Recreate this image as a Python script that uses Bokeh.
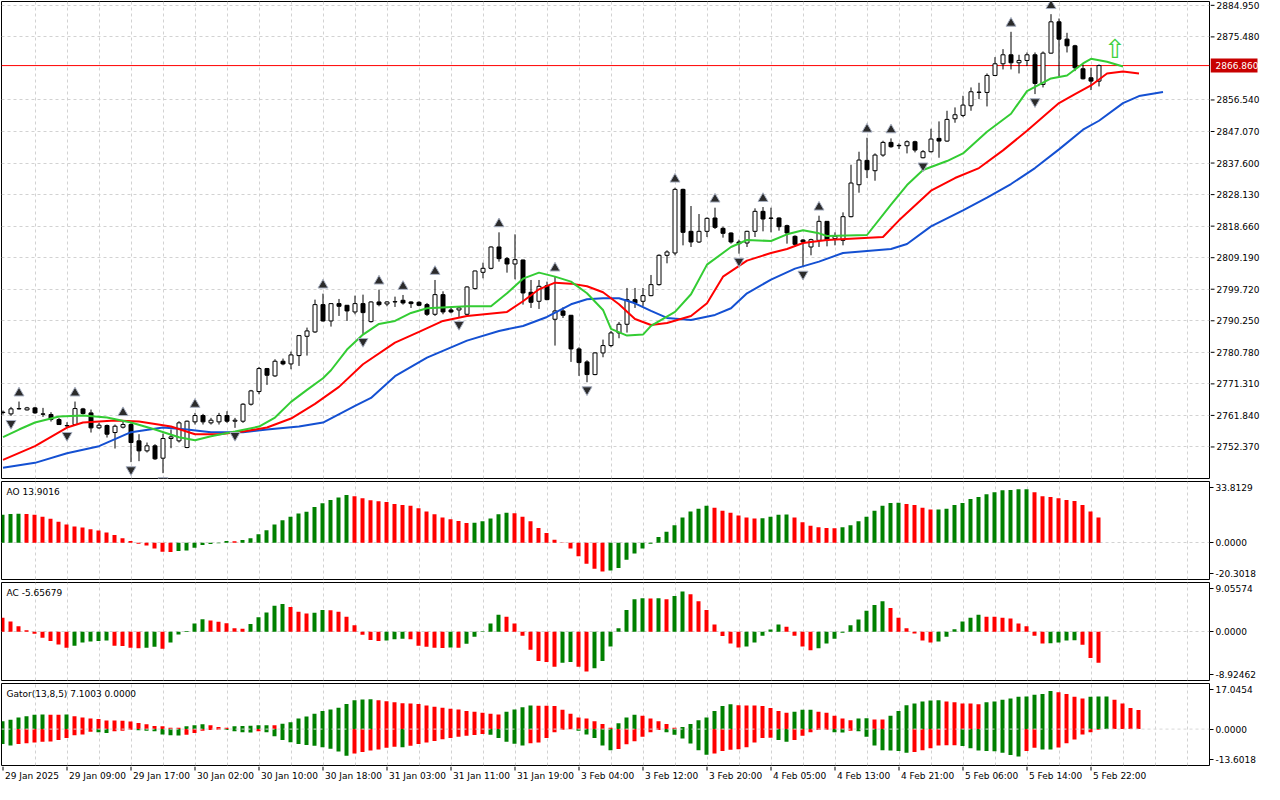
from bokeh.plotting import figure
from bokeh.layouts import column, row
from bokeh.models import ColumnDataSource, FixedTicker, Range1d, Span, Label, Grid
from bokeh.embed import file_html
from bokeh.resources import INLINE
from bokeh.core.properties import value

# ---------------- data ----------------
opens = [2762.7, 2762.3, 2763.8, 2763.5, 2764.1, 2762.3, 2762.1, 2760.6, 2758.8, 2759.1,
         2763.8, 2762.6, 2758.1, 2758.8, 2756.7, 2758.3, 2759.1, 2754.2, 2751.2, 2752.7,
         2749.0, 2754.9, 2754.2, 2752.2, 2759.9, 2761.8, 2759.6, 2759.9, 2761.8, 2760.1,
         2760.1, 2765.2, 2769.0, 2775.9, 2773.7, 2778.1, 2777.3, 2779.8, 2785.6, 2786.9,
         2795.1, 2790.2, 2795.4, 2794.9, 2792.9, 2795.4, 2790.0, 2795.9, 2795.3, 2795.9,
         2796.4, 2795.9, 2795.8, 2795.1, 2792.2, 2798.1, 2793.5, 2793.5, 2792.2, 2799.9,
         2804.8, 2806.0, 2812.4, 2808.9, 2807.3, 2808.5, 2798.8, 2796.1, 2800.8, 2790.7,
         2793.2, 2791.9, 2781.8, 2777.9, 2774.1, 2780.6, 2782.8, 2786.6, 2789.2, 2796.6,
         2796.1, 2797.8, 2801.1, 2809.9, 2810.6, 2829.7, 2817.1, 2813.9, 2817.1, 2821.1,
         2818.0, 2816.6, 2813.9, 2813.6, 2817.1, 2823.1, 2821.1, 2821.1, 2818.8, 2815.6,
         2814.5, 2812.4, 2814.4, 2820.1, 2814.9, 2814.4, 2821.5, 2831.1, 2838.4, 2835.3,
         2840.0, 2843.8, 2842.8, 2842.8, 2844.0, 2839.2, 2841.0, 2845.0, 2844.2, 2850.9,
         2851.9, 2854.8, 2858.9, 2858.8, 2863.9, 2867.4, 2870.1, 2867.7, 2868.4, 2870.1,
         2861.2, 2870.6, 2880.0, 2874.8, 2872.8, 2865.9, 2863.2, 2862.2]
highs = [2763.3, 2764.4, 2766.0, 2764.4, 2764.4, 2764.1, 2762.8, 2761.1, 2759.8, 2766.0,
         2764.1, 2763.6, 2759.6, 2759.1, 2759.1, 2760.1, 2759.9, 2756.2, 2753.7, 2753.2,
         2756.4, 2757.6, 2760.1, 2760.3, 2762.6, 2762.3, 2761.1, 2762.6, 2763.1, 2761.1,
         2765.5, 2769.5, 2776.4, 2776.1, 2778.7, 2778.9, 2781.0, 2786.0, 2788.2, 2796.6,
         2798.4, 2795.5, 2796.8, 2795.0, 2797.8, 2798.1, 2796.1, 2799.6, 2796.1, 2797.5,
         2798.0, 2796.1, 2796.1, 2795.6, 2802.5, 2799.1, 2794.1, 2794.4, 2800.6, 2805.3,
         2807.7, 2812.6, 2816.8, 2809.4, 2816.2, 2808.6, 2802.5, 2802.5, 2802.0, 2803.5,
         2794.3, 2792.0, 2782.3, 2778.4, 2780.8, 2784.6, 2787.2, 2789.9, 2800.1, 2800.1,
         2800.1, 2804.0, 2810.2, 2811.4, 2830.2, 2829.9, 2824.7, 2822.3, 2821.3, 2824.2,
         2818.5, 2816.8, 2814.6, 2817.3, 2824.0, 2824.4, 2824.2, 2821.3, 2819.1, 2815.9,
         2814.8, 2814.9, 2821.8, 2820.2, 2816.8, 2822.8, 2837.1, 2841.0, 2845.2, 2840.5,
         2844.3, 2845.0, 2843.5, 2844.4, 2844.3, 2841.5, 2847.9, 2850.1, 2853.3, 2854.3,
         2857.8, 2860.3, 2861.7, 2864.5, 2869.4, 2871.8, 2877.0, 2870.1, 2870.8, 2870.8,
         2871.1, 2882.3, 2881.0, 2876.7, 2873.1, 2867.2, 2866.2, 2867.2]
lows = [2762.1, 2761.7, 2763.6, 2763.3, 2762.3, 2761.4, 2760.0, 2759.0, 2758.1, 2758.9,
        2762.1, 2756.7, 2757.8, 2755.2, 2751.9, 2757.9, 2747.8, 2748.1, 2750.7, 2748.5,
        2744.5, 2752.0, 2753.7, 2752.0, 2759.1, 2759.1, 2759.1, 2759.1, 2759.6, 2758.1,
        2759.6, 2764.8, 2768.2, 2771.0, 2773.4, 2776.9, 2775.7, 2776.7, 2779.8, 2786.6,
        2790.0, 2788.5, 2791.7, 2790.2, 2792.2, 2786.3, 2789.7, 2794.6, 2794.6, 2794.4,
        2795.1, 2794.1, 2794.6, 2791.7, 2791.7, 2792.2, 2792.5, 2791.4, 2792.0, 2799.6,
        2803.0, 2805.7, 2808.0, 2804.7, 2802.7, 2795.1, 2794.1, 2793.8, 2796.4, 2782.8,
        2791.1, 2777.9, 2773.7, 2771.8, 2773.9, 2779.3, 2782.3, 2785.0, 2786.7, 2794.1,
        2794.6, 2797.6, 2800.8, 2807.5, 2809.9, 2812.9, 2812.4, 2813.6, 2815.4, 2817.8,
        2815.2, 2813.4, 2810.4, 2812.4, 2815.4, 2817.1, 2816.8, 2817.3, 2813.4, 2812.4,
        2806.5, 2809.9, 2812.4, 2812.6, 2812.9, 2812.9, 2821.3, 2828.7, 2833.1, 2832.3,
        2839.5, 2842.2, 2841.8, 2840.5, 2840.8, 2839.0, 2840.8, 2839.2, 2844.0, 2849.7,
        2851.4, 2853.3, 2856.8, 2854.6, 2863.7, 2865.7, 2865.7, 2864.5, 2866.7, 2858.3,
        2860.3, 2870.4, 2863.7, 2870.8, 2865.2, 2862.7, 2859.5, 2860.6]
closes = [2762.8, 2763.8, 2763.9, 2764.1, 2762.6, 2762.2, 2760.6, 2759.1, 2758.7, 2763.9,
          2762.4, 2758.1, 2758.9, 2756.2, 2758.6, 2759.1, 2753.7, 2751.2, 2752.7, 2748.8,
          2754.9, 2755.4, 2759.6, 2760.1, 2761.8, 2759.9, 2760.4, 2761.8, 2760.1, 2760.4,
          2765.2, 2769.2, 2775.9, 2773.9, 2778.1, 2777.3, 2780.0, 2785.8, 2787.2, 2795.1,
          2790.2, 2795.4, 2794.6, 2793.2, 2795.4, 2792.7, 2795.9, 2795.1, 2795.9, 2796.0,
          2795.6, 2795.4, 2794.9, 2792.2, 2798.1, 2792.9, 2792.9, 2794.1, 2800.4, 2805.2,
          2806.0, 2812.4, 2808.9, 2807.3, 2808.6, 2798.6, 2795.8, 2800.6, 2796.6, 2793.2,
          2791.9, 2781.8, 2777.7, 2774.1, 2780.6, 2782.8, 2786.6, 2789.2, 2796.6, 2795.6,
          2797.8, 2801.1, 2809.9, 2810.9, 2829.7, 2816.8, 2813.9, 2817.1, 2821.0, 2818.3,
          2816.5, 2813.9, 2813.4, 2817.1, 2823.1, 2820.8, 2821.0, 2818.5, 2816.6, 2813.2,
          2813.9, 2814.6, 2820.1, 2814.4, 2815.6, 2821.5, 2831.6, 2838.5, 2835.6, 2840.0,
          2843.8, 2842.5, 2842.9, 2844.0, 2841.5, 2841.0, 2844.8, 2844.2, 2850.7, 2852.1,
          2855.0, 2859.0, 2858.8, 2863.9, 2867.4, 2870.1, 2867.7, 2868.4, 2870.1, 2861.5,
          2870.6, 2880.0, 2874.8, 2872.8, 2866.2, 2862.9, 2862.2, 2866.86]

# Alligator lines (bar index, price)
jaw_x = [0, 4, 8, 12, 16, 20, 23, 26, 30, 33, 37, 40, 44, 46, 49, 53, 58, 62, 65, 68,
         71, 73, 75, 77, 79, 81, 83, 86, 89, 91, 93, 96, 99, 102, 105, 108, 111, 113, 116, 120,
         123, 126, 129, 132, 135, 137, 140, 142, 145]
jaw_y = [2746.1, 2747.6, 2750.5, 2752.6, 2756.8, 2758.2, 2757.6, 2756.8, 2756.8, 2757.6,
         2758.5, 2759.7, 2764.7, 2767.1, 2773.6, 2779.2, 2784.3, 2787.2, 2788.7, 2791.4,
         2795.2, 2796.7, 2797.0, 2797.0, 2795.5, 2793.2, 2791.1, 2790.5, 2792.0, 2794.0,
         2798.5, 2802.6, 2805.9, 2808.0, 2810.6, 2811.2, 2811.8, 2813.3, 2818.6, 2823.4,
         2827.2, 2831.3, 2836.1, 2841.7, 2847.6, 2850.3, 2855.6, 2857.7, 2858.9]
teeth_x = [0, 4, 8, 10, 14, 17, 21, 24, 27, 30, 33, 36, 39, 42, 45, 49, 52, 55, 58, 63,
           65, 67, 69, 71, 73, 75, 77, 79, 81, 83, 86, 88, 90, 93, 96, 98, 100, 103, 110, 112,
           116, 119, 122, 125, 128, 132, 134, 136, 138, 140, 142]
teeth_y = [2748.5, 2752.6, 2758.2, 2759.7, 2760.3, 2760.0, 2758.5, 2756.2, 2756.2, 2757.0,
           2758.2, 2760.9, 2765.3, 2770.4, 2777.2, 2783.7, 2786.9, 2790.2, 2791.7, 2792.9,
           2796.1, 2799.7, 2801.7, 2801.4, 2800.6, 2798.8, 2795.2, 2790.8, 2789.0, 2789.6,
           2791.7, 2795.5, 2803.5, 2808.3, 2810.6, 2811.8, 2813.6, 2814.5, 2815.4, 2820.4,
           2829.3, 2833.1, 2836.1, 2841.4, 2847.3, 2855.6, 2858.3, 2860.9, 2864.5, 2865.1,
           2864.5]
lips_x = [0, 2, 4, 7, 10, 13, 16, 19, 22, 24, 26, 29, 32, 34, 36, 38, 40, 41, 43, 45,
          47, 49, 51, 53, 58, 61, 63, 65, 67, 69, 71, 73, 75, 76, 78, 80, 81, 84, 86, 88,
          91, 93, 96, 98, 100, 102, 103, 108, 111, 113, 115, 118, 120, 123, 126, 128, 131, 133, 135, 136,
          138, 140]
lips_y = [2755.3, 2757.6, 2759.7, 2761.5, 2761.8, 2761.2, 2759.7, 2757.6, 2755.3, 2754.4,
          2755.6, 2757.0, 2758.5, 2761.2, 2765.9, 2769.5, 2773.0, 2775.4, 2781.6, 2786.1,
          2789.3, 2790.2, 2792.6, 2794.0, 2794.6, 2794.6, 2798.5, 2802.9, 2804.7, 2803.5,
          2802.0, 2798.5, 2793.5, 2787.8, 2785.8, 2786.1, 2788.7, 2792.9, 2798.2, 2807.1,
          2812.4, 2814.5, 2814.2, 2816.2, 2817.4, 2816.5, 2815.7, 2816.0, 2825.1, 2831.0,
          2835.5, 2838.2, 2840.5, 2847.0, 2852.4, 2859.2, 2863.0, 2863.9, 2867.5, 2868.9,
          2868.0, 2866.6]

fractal_up = [2, 9, 15, 24, 40, 47, 50, 54, 62, 69, 84, 89, 95, 102, 108, 111, 126, 131]
fractal_down = [1, 8, 16, 20, 29, 45, 57, 73, 92, 100, 115, 129]

signal_x = [139]
signal_y = [2871.7]
last_price = 2866.86
last_price_text = "2866.860"

ao = [15.5, 15.9, 16.0, 15.8, 15.4, 14.3, 13.3, 11.6, 10.0, 8.9,
      8.4, 7.4, 6.8, 5.7, 4.3, 2.5, 0.9, -0.5, -1.5, -3.2,
      -5.0, -5.1, -4.5, -4.3, -2.8, -1.3, -0.7, -0.35, 0.9, 0.8,
      1.5, 2.5, 4.7, 6.9, 10.1, 12.4, 14.4, 16.1, 17.1, 19.7,
      21.8, 23.6, 25.0, 26.3, 25.7, 24.6, 23.4, 22.9, 22.5, 21.4,
      20.9, 20.4, 19.1, 17.2, 15.7, 13.9, 12.9, 12.0, 10.9, 11.0,
      11.8, 13.4, 15.7, 16.6, 16.3, 14.4, 11.8, 8.1, 5.4, 1.6,
      -0.2, -3.2, -7.4, -11.6, -14.3, -15.9, -15.4, -13.9, -9.4, -5.9,
      -3.2, -0.5, 3.2, 6.1, 9.6, 13.9, 17.2, 18.8, 20.4, 19.3,
      17.7, 16.6, 15.0, 13.9, 13.4, 13.5, 14.4, 15.5, 15.6, 13.9,
      11.3, 9.4, 8.5, 8.1, 8.0, 8.5, 9.6, 11.8, 14.4, 17.7,
      20.4, 22.0, 22.1, 21.4, 20.9, 19.3, 18.3, 18.4, 18.8, 20.9,
      22.0, 24.2, 25.2, 26.8, 27.9, 29.0, 29.1, 29.5, 29.6, 27.9,
      25.7, 25.2, 24.6, 23.6, 23.1, 20.9, 17.2, 13.9016]
ac = [2.61, 1.90, 1.01, 0.30, -0.36, -1.07, -1.66, -2.31, -2.91, -2.55,
      -1.96, -1.78, -1.66, -1.60, -2.55, -2.61, -2.91, -3.02, -2.91, -2.73,
      -3.08, -1.96, -0.47, 0.18, 1.54, 2.31, 2.08, 1.84, 1.60, 0.65,
      0.59, 1.42, 2.67, 3.56, 4.80, 5.10, 4.57, 3.68, 3.38, 3.50,
      4.03, 3.97, 3.68, 2.79, 1.19, -0.53, -1.48, -1.70, -1.60, -1.36,
      -1.25, -1.36, -2.55, -2.73, -2.91, -2.95, -2.85, -2.91, -2.19, -0.89,
      0.12, 1.54, 3.14, 2.79, 1.54, -0.71, -3.26, -5.34, -5.51, -6.40,
      -5.69, -5.51, -6.40, -7.29, -6.70, -5.34, -2.67, 0.65, 4.03, 5.99,
      6.17, 6.10, 6.15, 5.99, 6.58, 7.41, 6.88, 5.63, 4.03, 1.36,
      -0.77, -2.13, -2.85, -2.67, -1.96, -0.71, 0.42, 1.36, 0.95, -0.71,
      -2.67, -3.38, -3.02, -2.13, -1.25, -0.15, 1.19, 2.25, 3.85, 4.92,
      5.63, 4.39, 2.61, 0.65, -0.30, -1.60, -1.96, -1.78, -0.89, 0.47,
      1.90, 2.61, 3.14, 2.79, 2.75, 2.61, 2.43, 1.54, 1.01, -0.71,
      -2.13, -2.10, -1.96, -1.60, -1.55, -2.37, -4.80, -5.65679]
gator_up = [2.9, 3.5, 4.3, 4.8, 5.4, 5.45, 5.4, 5.35, 5.45, 4.8,
            4.3, 4.0, 3.8, 3.25, 3.2, 3.15, 2.8, 2.3, 1.8, 1.15,
            1.1, 0.55, 0.5, 1.1, 1.4, 1.8, 1.4, 0.8, 0.5, 1.1,
            1.2, 1.3, 1.4, 1.45, 1.4, 2.0, 2.6, 4.0, 4.7, 5.7,
            6.8, 7.3, 8.0, 9.4, 10.8, 11.1, 11.15, 10.8, 10.4, 10.0,
            9.7, 9.6, 9.4, 8.8, 8.4, 8.0, 7.6, 7.3, 6.8, 6.5,
            6.1, 5.7, 5.5, 6.5, 7.3, 8.2, 8.8, 8.75, 8.7, 8.6,
            7.2, 5.7, 4.3, 4.0, 2.9, 1.9, 0.5, 2.2, 4.3, 5.4,
            5.0, 4.0, 2.9, 1.9, 0.5, 0.8, 1.9, 3.3, 4.3, 6.8,
            8.6, 9.3, 8.9, 8.85, 8.8, 8.6, 7.9, 6.8, 6.1, 6.5,
            7.2, 7.25, 6.5, 6.1, 5.0, 4.0, 3.3, 4.0, 4.05, 3.6,
            3.55, 5.0, 6.8, 8.9, 9.6, 10.3, 10.7, 10.75, 10.3, 10.0,
            9.6, 9.55, 9.3, 10.0, 10.3, 11.0, 11.4, 12.1, 12.15, 12.8,
            13.1, 14.2, 13.8, 13.1, 12.1, 11.4, 12.1, 12.15, 12.2, 11.0,
            9.6, 7.9, 7.1003]
gator_down = [-5.6, -6.1, -5.6, -5.3, -5.0, -4.7, -4.65, -4.1, -3.3, -2.3,
              -2.0, -1.0, -1.2, -1.5, -0.8, -0.6, -0.25, -0.45, -0.6, -0.8,
              -2.0, -2.3, -2.35, -2.1, -1.5, -0.6, -0.35, -0.25, -0.35, -0.8,
              -1.2, -1.25, -0.8, -1.2, -2.7, -4.1, -4.9, -5.6, -5.9, -6.2,
              -6.8, -7.3, -8.4, -10.0, -9.1, -8.6, -8.0, -7.6, -7.0, -6.6,
              -6.8, -6.2, -5.6, -5.0, -4.4, -3.8, -3.3, -2.9, -2.5, -2.2,
              -1.8, -2.1, -3.3, -4.7, -5.5, -6.1, -5.3, -5.0, -3.3, -1.2,
              -0.25, -0.1, -0.6, -2.0, -3.3, -6.1, -7.9, -7.4, -5.7, -4.5,
              -2.9, -1.2, -0.35, -1.2, -2.1, -3.5, -5.4, -7.9, -9.6, -9.1,
              -8.2, -7.7, -7.5, -6.8, -5.0, -3.3, -3.2, -4.1, -4.7, -4.1,
              -2.5, -1.2, -0.35, -0.25, -1.2, -1.25, -0.6, -0.8, -2.9, -6.1,
              -7.9, -7.95, -8.2, -8.8, -8.6, -7.9, -7.2, -6.1, -6.05, -6.0,
              -6.3, -7.2, -8.0, -8.2, -8.25, -8.8, -9.7, -10.2, -8.2, -7.0,
              -7.6, -7.65, -6.9, -5.3, -3.9, -2.0, -1.2, -0.25, 0.0, 0.0,
              0.0, 0.0, 0.0]

price_ticks = [2752.370, 2761.840, 2771.310, 2780.780, 2790.250, 2799.720, 2809.190,
               2818.660, 2828.130, 2837.600, 2847.070, 2856.540, 2875.480, 2884.950]
price_tick_labels = ["2752.370", "2761.840", "2771.310", "2780.780", "2790.250", "2799.720",
                     "2809.190", "2818.660", "2828.130", "2837.600", "2847.070", "2856.540",
                     "2875.480", "2884.950"]
price_range = (2742.9, 2886.1)
ao_range = (-20.3018, 33.8129)
ac_range = (-8.92462, 9.05574)
gator_range = (-13.6018, 17.0454)
ao_labels = ["33.8129", "0.0000", "-20.3018"]
ac_labels = ["9.05574", "0.0000", "-8.92462"]
gator_labels = ["17.0454", "0.0000", "-13.6018"]
ao_title = "AO 13.9016"
ac_title = "AC -5.65679"
gator_title = "Gator(13,8,5) 7.1003 0.0000"

time_idx = [0, 8, 16, 24, 32, 40, 48, 56, 64, 72, 80, 88, 96, 104, 112, 120, 128, 136]
time_labels = ["29 Jan 2025", "29 Jan 09:00", "29 Jan 17:00", "30 Jan 02:00", "30 Jan 10:00",
               "30 Jan 18:00", "31 Jan 03:00", "31 Jan 11:00", "31 Jan 19:00", "3 Feb 04:00",
               "3 Feb 12:00", "3 Feb 20:00", "4 Feb 05:00", "4 Feb 13:00", "4 Feb 21:00",
               "5 Feb 06:00", "5 Feb 14:00", "5 Feb 22:00"]

# ---------------- styling ----------------
FONT = "DejaVu Sans"
FS = "9px"
GREEN = "#008000"
RED = "#ff0000"
GRID_C = "#d2d2d2"
FW = 1208
AXW = 54
X_START = -0.1875
X_END = X_START + FW / 8.0
xr = Range1d(X_START, X_END)
vgrid_ticks = list(range(4, 153, 4))


def make_fig(fh, yr, tick_vals=None, tick_text=None):
    with_axis = tick_vals is not None
    p = figure(frame_width=FW, frame_height=fh, x_range=xr, y_range=Range1d(*yr),
               output_backend="svg", toolbar_location=None, x_axis_location=None,
               y_axis_location="right" if with_axis else None, min_border_left=1,
               min_border_top=1, min_border_bottom=1, min_border_right=1)
    p.outline_line_color = "black"
    p.outline_line_width = 1
    p.outline_line_alpha = 1.0
    p.background_fill_color = "white"
    p.border_fill_color = "white"
    p.xgrid.visible = False
    p.ygrid.visible = False
    if with_axis:
        ax = p.yaxis[0]
        ax.ticker = FixedTicker(ticks=tick_vals, minor_ticks=[])
        ax.major_label_overrides = {v: t for v, t in zip(tick_vals, tick_text)}
        ax.major_label_text_font = FONT
        ax.major_label_text_font_size = FS
        ax.major_label_text_color = "black"
        ax.major_label_standoff = 2
        ax.major_tick_out = 4
        ax.major_tick_in = 0
        ax.minor_tick_out = 0
        ax.minor_tick_in = 0
        ax.major_tick_line_color = "black"
        ax.axis_line_color = None
    p.add_layout(Grid(dimension=0, ticker=FixedTicker(ticks=vgrid_ticks),
                      grid_line_color=GRID_C, grid_line_dash="3 3"))
    return p


def inset_ticks(yr, fh, px=6):
    s = (yr[1] - yr[0]) / fh
    return [yr[1] - px * s, 0.0, yr[0] + px * s]


def hist_colors(vals, first, use_abs=False):
    cols, prev, cur = [], None, first
    for v in vals:
        a = abs(v) if use_abs else v
        if prev is not None:
            if a > prev:
                cur = GREEN
            elif a < prev:
                cur = RED
        cols.append(cur)
        prev = a
    return cols


def pane_title(p, yr, text):
    p.add_layout(Label(x=X_START, y=yr[1], x_offset=5, y_offset=-5, text=text,
                       text_baseline="top", text_align="left", text_font=FONT,
                       text_font_size=FS, text_color="black"))


# ---------------- main price pane ----------------
MAIN_H = 477
pmain = make_fig(MAIN_H, price_range)
pmain.add_layout(Grid(dimension=1, ticker=FixedTicker(ticks=price_ticks),
                      grid_line_color=GRID_C, grid_line_dash="3 3"))

# current-price line (drawn as a glyph, under the candles)
pmain.segment(x0=[X_START], y0=[last_price], x1=[X_END], y1=[last_price],
              line_color="#ff0000", line_width=1)

n = len(opens)
cs = ColumnDataSource(dict(
    x=list(range(n)), h=highs, l=lows,
    top=[max(a, b) for a, b in zip(opens, closes)],
    bot=[min(a, b) for a, b in zip(opens, closes)],
    fill=["white" if c >= o else "black" for o, c in zip(opens, closes)],
))
pmain.segment(x0="x", y0="h", x1="x", y1="l", source=cs, line_color="black", line_width=1)
pmain.vbar(x="x", top="top", bottom="bot", width=0.5, source=cs, fill_color="fill",
           line_color="black", line_width=1)

pmain.line(jaw_x, jaw_y, line_color="#1450d2", line_width=2)
pmain.line(teeth_x, teeth_y, line_color="#ff0000", line_width=2)
pmain.line(lips_x, lips_y, line_color="#33cc33", line_width=2)

ppx = (price_range[1] - price_range[0]) / MAIN_H
pmain.scatter(fractal_up, [highs[i] + 8.5 * ppx for i in fractal_up],
              marker="triangle", size=10, fill_color="#2b2b2b", line_color="#a8b0c2", line_width=1)
pmain.scatter(fractal_down, [lows[i] - 7.5 * ppx for i in fractal_down],
              marker="inverted_triangle", size=10, fill_color="#2b2b2b", line_color="#a8b0c2",
              line_width=1)

pmain.text(x=signal_x, y=signal_y, text=["\u21e7"], text_color="#3ccf3c",
           text_font=value(FONT), text_font_size="26px", text_align="center",
           text_baseline="middle")

# price scale drawn as a narrow companion figure (so the price box can sit on it)
paxis = figure(frame_width=AXW, frame_height=MAIN_H, x_range=Range1d(0, AXW),
               y_range=pmain.y_range, output_backend="svg", toolbar_location=None,
               x_axis_location=None, y_axis_location=None, min_border_left=0,
               min_border_right=0, min_border_top=1, min_border_bottom=1)
paxis.outline_line_color = None
paxis.background_fill_color = "white"
paxis.border_fill_color = "white"
paxis.xgrid.visible = False
paxis.ygrid.visible = False
k = len(price_ticks)
paxis.segment(x0=[0] * k, y0=price_ticks, x1=[4] * k, y1=price_ticks,
              line_color="black", line_width=1)
paxis.text(x=[6] * k, y=price_ticks, text=price_tick_labels, text_font=value(FONT),
           text_font_size=FS, text_color="black", text_align="left", text_baseline="middle")
paxis.quad(left=[0], right=[47], top=[last_price + 7 * ppx], bottom=[last_price - 7 * ppx],
           fill_color="#c80000", line_color=None)
paxis.text(x=[5], y=[last_price], text=[last_price_text], text_font=value(FONT),
           text_font_size=FS, text_color="white", text_align="left", text_baseline="middle")

# ---------------- AO pane ----------------
SUB_H = 98
pao = make_fig(SUB_H, ao_range, inset_ticks(ao_range, SUB_H), ao_labels)
pao.add_layout(Grid(dimension=1, ticker=FixedTicker(ticks=[0.0]),
                    grid_line_color=GRID_C, grid_line_dash="3 3"))
hx = [i - 0.0625 for i in range(len(ao))]
pao.vbar(x=hx, top=ao, bottom=0, width=0.5, fill_color=hist_colors(ao, GREEN), line_color=None)
pane_title(pao, ao_range, ao_title)

# ---------------- AC pane ----------------
pac = make_fig(SUB_H, ac_range, inset_ticks(ac_range, SUB_H), ac_labels)
pac.add_layout(Grid(dimension=1, ticker=FixedTicker(ticks=[0.0]),
                    grid_line_color=GRID_C, grid_line_dash="3 3"))
hx = [i - 0.0625 for i in range(len(ac))]
pac.vbar(x=hx, top=ac, bottom=0, width=0.5, fill_color=hist_colors(ac, RED), line_color=None)
pane_title(pac, ac_range, ac_title)

# ---------------- Gator pane ----------------
GAT_H = 82
pg = make_fig(GAT_H, gator_range, inset_ticks(gator_range, GAT_H), gator_labels)
gx = [i - 0.0625 for i in range(len(gator_up))]
pg.vbar(x=gx, top=gator_up, bottom=0, width=0.5,
        fill_color=hist_colors(gator_up, GREEN), line_color=None)
pg.vbar(x=gx, top=0, bottom=gator_down, width=0.5,
        fill_color=hist_colors(gator_down, GREEN, use_abs=True), line_color=None)
pg.add_layout(Span(location=0, dimension="width", line_color="#d8d8d8", line_width=1,
                   line_dash="3 3", level="overlay"))
pane_title(pg, gator_range, gator_title)

# ---------------- time axis strip ----------------
STRIP_H = 18
pax = figure(frame_width=FW, frame_height=STRIP_H, x_range=xr, y_range=Range1d(0, 1),
             output_backend="svg", toolbar_location=None, x_axis_location=None,
             y_axis_location=None, min_border_left=1, min_border_top=0, min_border_bottom=0,
             min_border_right=0)
pax.outline_line_color = None
pax.background_fill_color = "white"
pax.border_fill_color = "white"
pax.xgrid.visible = False
pax.ygrid.visible = False
pax.segment(x0=time_idx, y0=[1.0] * len(time_idx), x1=time_idx,
            y1=[1.0 - 4.0 / STRIP_H] * len(time_idx), line_color="black", line_width=1)
pax.text(x=time_idx, y=[0.45] * len(time_idx), text=time_labels, x_offset=2,
         text_font=value(FONT), text_font_size=FS, text_color="black",
         text_align="left", text_baseline="middle")

layout = column(column(row(pmain, paxis), pao, pac, pg, spacing=1), pax)

open("out.html", "w").write(file_html(layout, INLINE))
